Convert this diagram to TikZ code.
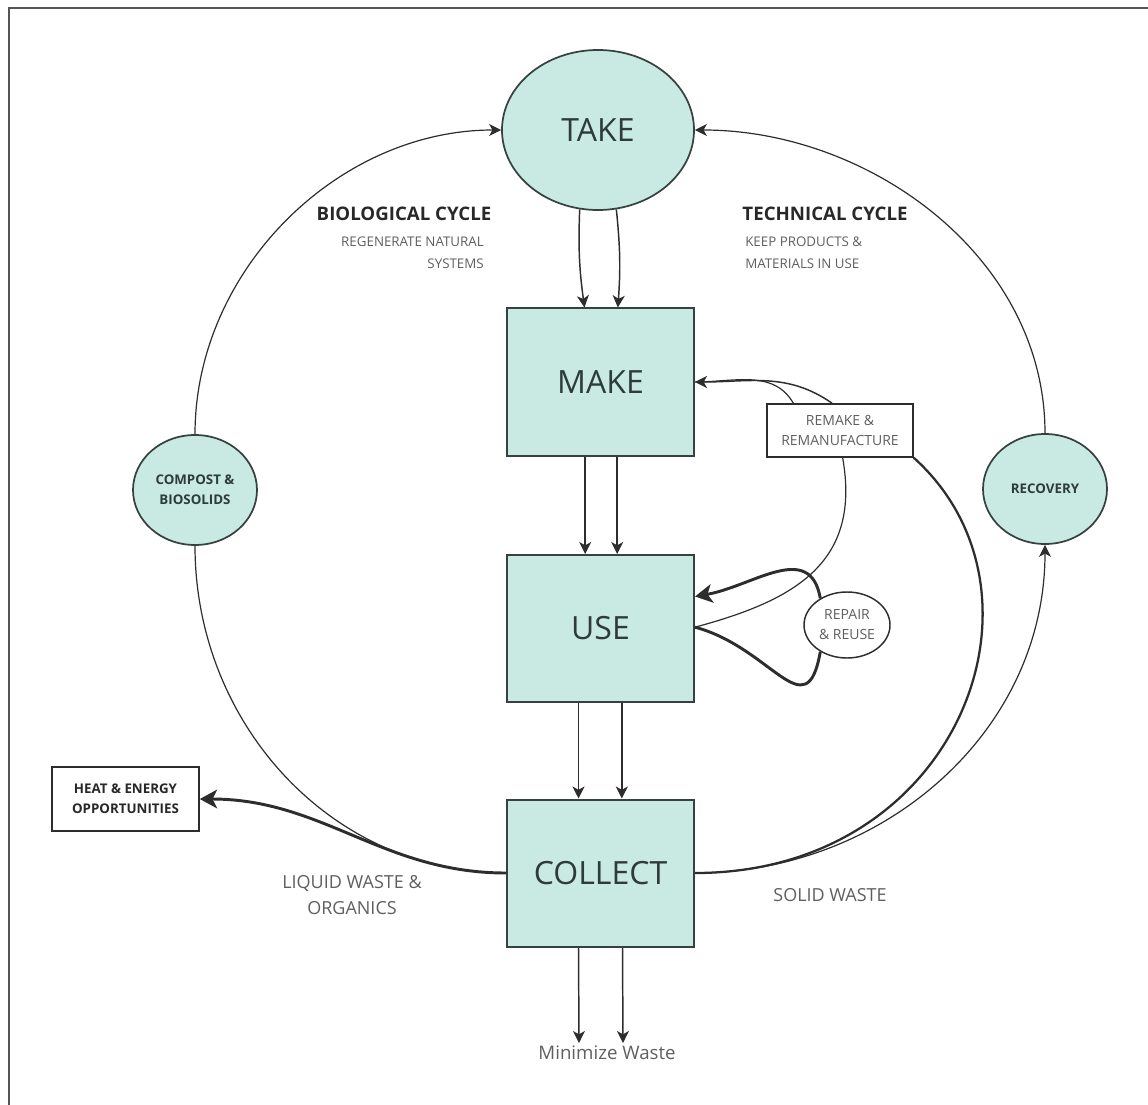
\documentclass[tikz,border=0pt]{standalone}
\usepackage{fontspec}
\setmainfont{Open Sans}
\usetikzlibrary{arrows.meta,shapes.geometric}
\definecolor{tealfill}{RGB}{201,233,227}
\definecolor{edgecol}{RGB}{55,66,64}
\definecolor{lncol}{RGB}{45,45,45}
\definecolor{txtcol}{RGB}{45,60,58}
\definecolor{graytxt}{RGB}{95,95,95}
\definecolor{darktxt}{RGB}{40,40,40}
\definecolor{framecol}{RGB}{85,85,85}
\begin{document}
\begin{tikzpicture}[x=0.75pt,y=0.75pt,
  procbox/.style={draw=edgecol,line width=1.5pt,fill=tealfill,minimum width=140.25pt,minimum height=110.25pt,inner sep=0pt,text=txtcol,font=\fontsize{24}{28}\selectfont},
  bigoval/.style={ellipse,draw=edgecol,line width=1.3pt,fill=tealfill,minimum width=144pt,minimum height=120pt,inner sep=0pt,text=txtcol,font=\fontsize{24}{28}\selectfont},
  smalloval/.style={ellipse,draw=edgecol,line width=1.3pt,fill=tealfill,minimum width=93pt,minimum height=82.5pt,inner sep=0pt,align=center,text=txtcol,font=\fontsize{10}{15}\selectfont\bfseries},
  whitebox/.style={draw=lncol,line width=1.2pt,fill=white,inner sep=0pt,align=center},
  thinln/.style={draw=lncol,line width=0.9pt},
  midln/.style={draw=lncol,line width=1.1pt},
  heavyln/.style={draw=lncol,line width=1.7pt},
  boldln/.style={draw=lncol,line width=2.2pt},
  smalltip/.style={-{Stealth[length=9pt,width=9pt,inset=2.5pt]}},
  bigtip/.style={-{Stealth[length=13pt,width=14pt,inset=3.5pt]}},
  headlbl/.style={text=darktxt,font=\fontsize{14}{17}\selectfont\bfseries,inner sep=0pt},
  sublbl/.style={text=graytxt,font=\fontsize{10}{16.5}\selectfont,inner sep=0pt},
  wastelbl/.style={text=graytxt,font=\fontsize{13.5}{19.5}\selectfont,inner sep=0pt,align=center}
]
\useasboundingbox (0,0) rectangle (1148,-1105);
% frame
\draw[framecol,line width=1.5pt] (9,-1105) -- (9,-8) -- (1148,-8);

% main nodes
\node[bigoval] (take) at (598,-130) {TAKE};
\node[procbox] (make) at (600.5,-382) {MAKE};
\node[procbox] (use) at (600.5,-628.5) {USE};
\node[procbox] (collect) at (600.5,-873) {COLLECT};
\node[smalloval] (compost) at (195,-490) {COMPOST \&\\BIOSOLIDS};
\node[smalloval] (recovery) at (1045,-489) {RECOVERY};
\node[whitebox,minimum width=109.5pt,minimum height=39.75pt,text=graytxt,font=\fontsize{10.5}{15}\selectfont] (remake) at (840,-430.5) {REMAKE \&\\REMANUFACTURE};
\node[ellipse,draw=lncol,line width=1.1pt,fill=white,minimum width=64.5pt,minimum height=49.5pt,inner sep=0pt,align=center,text=graytxt,font=\fontsize{10.5}{15}\selectfont] (repair) at (847,-625) {REPAIR\\\& REUSE};
\node[whitebox,minimum width=110.25pt,minimum height=48pt,text=darktxt,font=\fontsize{10}{15}\selectfont\bfseries] (heat) at (125.5,-799) {HEAT \& ENERGY\\OPPORTUNITIES};

% labels
\node[headlbl] (biohead) at (404,-214) {BIOLOGICAL CYCLE};
\node[sublbl,align=right,anchor=east] (biosub) at (484,-253) {REGENERATE NATURAL\\SYSTEMS};
\node[headlbl] (techhead) at (825,-214) {TECHNICAL CYCLE};
\node[sublbl,align=left,anchor=west] (techsub) at (745,-253) {KEEP PRODUCTS \&\\MATERIALS IN USE};
\node[wastelbl] (liquid) at (352,-895) {LIQUID WASTE \&\\ORGANICS};
\node[wastelbl] (solid) at (830,-895) {SOLID WASTE};
\node[text=graytxt,font=\fontsize{14}{17}\selectfont,anchor=north,inner sep=2pt] (mw) at (607,-1043) {Minimize Waste};

% main flow arrows
\draw[midln,smalltip] (take.-103) to[bend right=5] ([xshift=-12pt]make.north);
\draw[midln,smalltip] (take.-77) to[bend left=5] ([xshift=13pt]make.north);
\draw[midln,smalltip] ([xshift=-11.5pt]make.south) -- ([xshift=-11.5pt]use.north);
\draw[midln,smalltip] ([xshift=12.5pt]make.south) -- ([xshift=12.5pt]use.north);
\draw[midln,smalltip] ([xshift=-16.5pt]use.south) -- ([xshift=-16.5pt]collect.north);
\draw[midln,smalltip] ([xshift=16pt]use.south) -- ([xshift=16pt]collect.north);
\draw[midln,smalltip] ([xshift=-16.5pt]collect.south) -- ([xshift=-21pt]mw.north);
\draw[midln,smalltip] ([xshift=16.5pt]collect.south) -- ([xshift=12pt]mw.north);

% biological cycle
\draw[thinln,smalltip] (compost.north) to[out=90,in=180,looseness=0.97] (take.west);
\draw[thinln] (compost.south) to[out=-90,in=180] (collect.west);
\draw[boldln,bigtip] (collect.west) to[out=180,in=0] (heat.east);

% technical cycle
\draw[thinln,smalltip] (recovery.north) to[out=90,in=0,looseness=0.97] (take.east);
\draw[thinln,smalltip] (collect.east) to[out=0,in=-90] (recovery.south);
\draw[heavyln] (collect.east) to[out=0,in=-42,out looseness=1.44,in looseness=1.1] (remake.south east);
\draw[midln,smalltip] ([xshift=-6pt]remake.north) to[out=145,in=0] (make.east);
\draw[thinln] ([xshift=-35pt]remake.north) to[out=120,in=0] (make.east);
\draw[thinln] ([xshift=2pt]remake.south) to[out=-80,in=15,looseness=1.2] ([yshift=1pt]use.east);

% repair loop
\draw[boldln,bigtip] (repair.135) to[out=100,in=10,looseness=1.2] ([yshift=24pt]use.east);
\draw[boldln] ([yshift=1pt]use.east) to[out=-15,in=-100,looseness=1.6] (repair.225);
\end{tikzpicture}
\end{document}
